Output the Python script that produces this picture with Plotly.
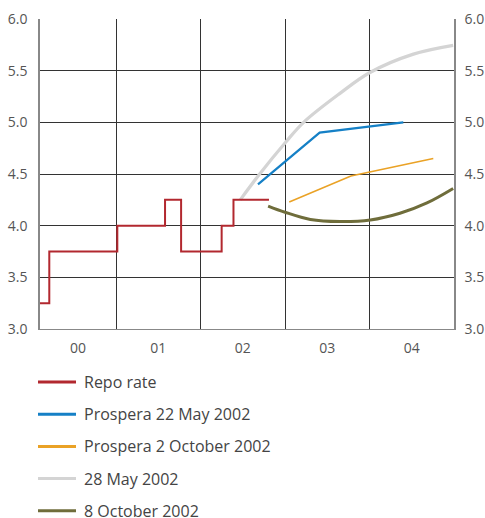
import plotly.graph_objects as go

# ---- data (decimal years, percent) ----
repo_x = [2000.10, 2000.21, 2001.015, 2001.58, 2001.77, 2002.25, 2002.39, 2002.81]
repo_y = [3.25, 3.75, 4.00, 4.25, 3.75, 4.00, 4.25, 4.25]

pros_may_x = [2002.68, 2003.41, 2004.40]
pros_may_y = [4.40, 4.90, 5.00]

pros_oct_x = [2003.05, 2003.78, 2004.755]
pros_oct_y = [4.23, 4.48, 4.65]

fwd_may_x = [2002.47, 2002.70, 2003.00, 2003.22, 2003.65, 2004.00, 2004.52, 2004.99]
fwd_may_y = [4.25, 4.50, 4.80, 5.00, 5.28, 5.48, 5.66, 5.745]

fwd_oct_x = [2002.80, 2003.00, 2003.30, 2003.65, 2004.01, 2004.36, 2004.68, 2004.99]
fwd_oct_y = [4.19, 4.13, 4.06, 4.04, 4.055, 4.12, 4.22, 4.36]

year_bounds = [2001, 2002, 2003, 2004]
year_label_pos = [2000.55, 2001.5, 2002.5, 2003.5, 2004.5]
year_labels = ["00", "01", "02", "03", "04"]
y_ticks = [3.0, 3.5, 4.0, 4.5, 5.0, 5.5, 6.0]

series_names = ["Repo rate", "Prospera 22 May 2002", "Prospera 2 October 2002",
                "28 May 2002", "8 October 2002"]
series_colors = ["#b2282f", "#1580c6", "#eaa226", "#d4d4d4", "#6f6d3b"]

FONT = "Open Sans"
GRID = "#333333"

W, H = 485, 518
PL, PR, PT, PB = 40, 454, 19, 329   # plot box inside the figure
ML, MR, MT, MB = PL, W - PR, PT, H - PB
PW, PH = PR - PL, PB - PT

def px2paper_x(px):
    return (px - PL) / PW

def px2paper_y(py):
    return (PB - py) / PH

fig = go.Figure()

def add(x, y, name, width, shape="linear"):
    color = series_colors[series_names.index(name)]
    fig.add_trace(go.Scatter(x=x, y=y, mode="lines", name=name, showlegend=False,
                             line=dict(color=color, width=width, shape=shape),
                             xaxis="x", yaxis="y"))

add(fwd_may_x, fwd_may_y, "28 May 2002", 3.2, "spline")
add(repo_x, repo_y, "Repo rate", 2, "hv")
add(pros_may_x, pros_may_y, "Prospera 22 May 2002", 2.2)
add(pros_oct_x, pros_oct_y, "Prospera 2 October 2002", 1.6)
add(fwd_oct_x, fwd_oct_y, "8 October 2002", 3, "spline")

# invisible trace to activate the right-hand y axis
fig.add_trace(go.Scatter(x=[repo_x[0]], y=[repo_y[0]], mode="lines", showlegend=False,
                         hoverinfo="skip", line=dict(width=0), xaxis="x2", yaxis="y2"))

# hand-placed legend below the plot (keeps plot area fixed)
leg_top, leg_step = 382, 32.2
for i, (nm, col) in enumerate(zip(series_names, series_colors)):
    cy = leg_top + i * leg_step
    fig.add_shape(type="line", xref="paper", yref="paper",
                  x0=px2paper_x(38), x1=px2paper_x(76),
                  y0=px2paper_y(cy), y1=px2paper_y(cy),
                  line=dict(color=col, width=3))
    fig.add_annotation(xref="paper", yref="paper", x=px2paper_x(82), y=px2paper_y(cy),
                       xanchor="left", yanchor="middle", text=nm, showarrow=False,
                       font=dict(family=FONT, size=16, color="#444444"))

xr = [2000.10, 2005.0]
yr = [3.0, 6.0]
tf = dict(family=FONT, size=14, color="#555555")

fig.update_layout(
    width=W, height=H,
    margin=dict(l=ML, r=MR, t=MT, b=MB),
    paper_bgcolor="white", plot_bgcolor="white",
    font=dict(family=FONT, size=13, color="#555555"),
    showlegend=False,
    xaxis=dict(range=xr, tickvals=year_label_pos, ticktext=year_labels, showgrid=False,
               zeroline=False, ticks="", showline=True, linecolor="#888888", linewidth=1,
               ticklabelstandoff=6, tickfont=tf, automargin=False),
    xaxis2=dict(range=xr, overlaying="x", tickvals=year_bounds, showticklabels=False,
                showgrid=True, gridcolor=GRID, gridwidth=1, zeroline=False, ticks="",
                automargin=False),
    yaxis=dict(range=yr, tickvals=y_ticks, tickformat=".1f", showgrid=True, gridcolor=GRID,
               gridwidth=1, zeroline=False, ticks="", showline=True, linecolor="#888888",
               linewidth=1.5, ticklabelstandoff=8, tickfont=tf, automargin=False),
    yaxis2=dict(range=yr, overlaying="y", side="right", tickvals=y_ticks, tickformat=".1f",
                showgrid=False, zeroline=False, ticks="", showline=True, linecolor="#888888",
                linewidth=1.5, ticklabelstandoff=6, tickfont=tf, automargin=False),
)

fig.write_html("out.html", config={"displayModeBar": False},
               post_script="document.body.style.margin='0';document.body.style.overflow='hidden';")
